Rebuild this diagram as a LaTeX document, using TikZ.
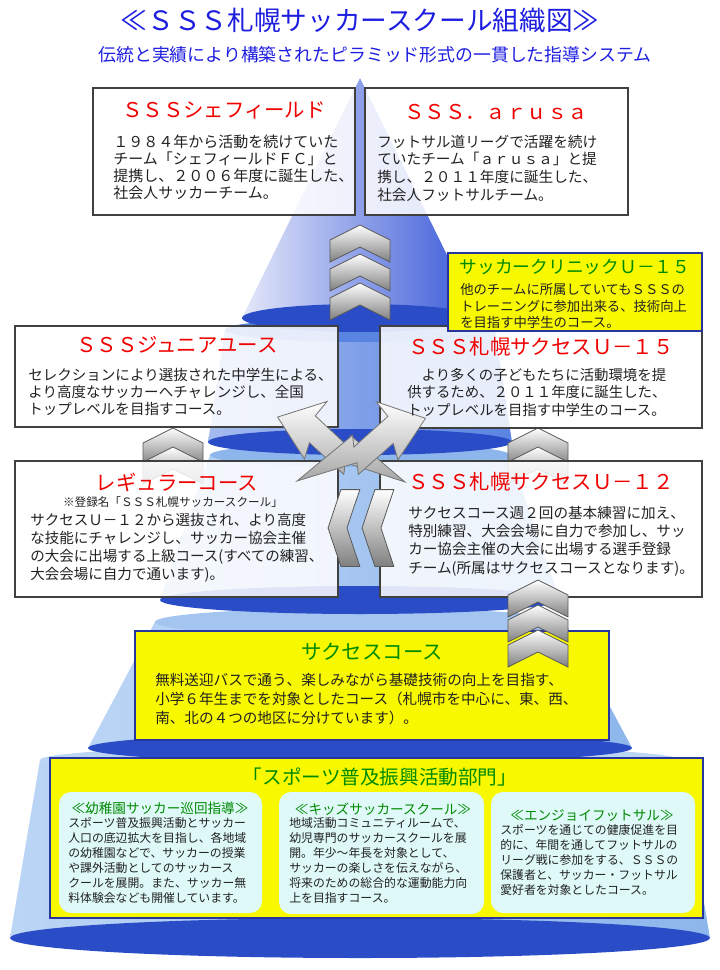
\documentclass[tikz,border=0pt]{standalone}
\usepackage{fontspec}
\setmainfont{Noto Sans CJK JP}
\usetikzlibrary{fit}

\definecolor{headblue}{HTML}{1E1EE0}
\definecolor{boxred}{HTML}{F00000}
\definecolor{boxgreen}{HTML}{008A00}
\definecolor{txtdark}{HTML}{222222}
\definecolor{pyrcone}{HTML}{3858D8}
\definecolor{pyrlight}{HTML}{E4E8F9}
\definecolor{pyrrim}{HTML}{2A4CC6}
\definecolor{pyrmid}{HTML}{5A84E2}
\definecolor{pyrsky}{HTML}{8DB6EC}
\definecolor{pyrpale}{HTML}{BBD5F5}
\definecolor{boxyellow}{HTML}{F8F800}
\definecolor{yelline}{HTML}{26369E}
\definecolor{kidcyan}{HTML}{DEF9F8}

\tikzset{
  whitebox/.style={draw=black!75, line width=0.8pt, fill=white, fill opacity=0.85, inner sep=0pt},
  yelbox/.style={draw=yelline, line width=0.8pt, fill=boxyellow, inner sep=0pt},
  kidbox/.style={fill=kidcyan, rounded corners=9pt, inner sep=0pt},
  rtitle/.style={text=boxred, font=\fontsize{15.3}{18}\selectfont, inner sep=0pt},
  gtitle/.style={text=boxgreen, font=\fontsize{15.3}{18}\selectfont, inner sep=0pt},
  ghead/.style={text=boxgreen, font=\fontsize{10.2}{12}\selectfont, inner sep=0pt},
  body/.style={text=txtdark, align=left, anchor=north west, inner sep=0pt},
  kidtext/.style={font=\fontsize{8.9}{11.25}\selectfont},
  chev/.style={draw=black!65, line width=0.6pt, top color=white, bottom color=black!50},
  bolt/.style={draw=black!55, line width=0.6pt, top color=white, bottom color=black!35},
  upchev/.pic={\draw[chev] (0,0) -- (30,15) -- (30,37) -- (0,22) -- (-30,37) -- (-30,15) -- cycle;}
}

\begin{document}
\begin{tikzpicture}[x=0.75pt, y=-0.75pt]
  \useasboundingbox (0,0) rectangle (720,970);

  % pyramid, bottom tier first
  \shade[left color=pyrpale, right color=pyrsky] (40,760) -- (10,938) -- (710,938) -- (680,760) -- cycle;
  \fill[pyrrim] (360,938) ellipse [x radius=350, y radius=20];
  \fill[pyrpale] (360,760) ellipse [x radius=320, y radius=15];
  \shade[left color=pyrpale, right color=pyrsky] (155,622) -- (88,748) -- (632,748) -- (565,622) -- cycle;
  \fill[pyrrim] (360,748) ellipse [x radius=272, y radius=15];
  \fill[pyrsky!80!white] (360,622) ellipse [x radius=205, y radius=14];
  \shade[left color=pyrpale, right color=pyrsky] (210,455) -- (160,600) -- (560,600) -- (510,455) -- cycle;
  \fill[pyrrim] (360,600) ellipse [x radius=200, y radius=14];
  \fill[pyrsky] (360,455) ellipse [x radius=150, y radius=12];
  \shade[left color=pyrmid!55!white, right color=pyrmid] (225,330) -- (208,442) -- (512,442) -- (495,330) -- cycle;
  \fill[pyrrim] (360,442) ellipse [x radius=152, y radius=13];
  \fill[pyrmid] (360,330) ellipse [x radius=135, y radius=12];
  \shade[left color=pyrlight, right color=pyrcone] (360,78) -- (242,318) -- (478,318) -- cycle;
  \fill[pyrrim] (360,318) ellipse [x radius=118, y radius=14];

  \foreach \cx in {173,538} {
    \pic at (\cx,428) {upchev};
    \pic at (\cx,447) {upchev};
  }

  \node[whitebox, fit={(93,88) (355,215)}] (sheff) {};
  \node[whitebox, fit={(365,88) (628,215)}] (arusa) {};
  \node[whitebox, fit={(15,326) (338,427)}] (junior) {};
  \node[whitebox, fit={(380,326) (702,428)}] (u15) {};
  \node[whitebox, fit={(15,461) (338,597)}] (regular) {};
  \node[whitebox, fit={(380,461) (702,597)}] (u12) {};
  \node[yelbox, fit={(448,253) (702,331)}] (clinic) {};
  \node[yelbox, fit={(135,631) (609,740)}] (success) {};
  \node[yelbox, fit={(50,758) (703,918)}] (sports) {};
  \node[kidbox, fit={(59,792) (262,913)}] (kinder) {};
  \node[kidbox, fit={(279,792) (484,914)}] (kids) {};
  \node[kidbox, fit={(491,792) (695,913)}] (enjoy) {};

  \foreach \y in {225,254,283} \pic at (360,\y) {upchev};
  \foreach \y in {580,605,630} \pic at (538,\y) {upchev};
  \foreach \x in {362,328} \pic[rotate=90, xscale=1.28, yscale=0.86] at (\x,528) {upchev};

  \draw[bolt, shift={(405,482)}, rotate=153, yscale=-1.4] (0,0) -- (70,-12) -- (66,-4) -- (110,-13) -- (106,-26)
    -- (143,0) -- (100,18) -- (103,6) -- (58,15) -- (62,7) -- cycle;
  \draw[bolt, shift={(297,481)}, rotate=26, yscale=1.4] (0,0) -- (70,-12) -- (66,-4) -- (110,-13) -- (106,-26)
    -- (143,0) -- (100,18) -- (103,6) -- (58,15) -- (62,7) -- cycle;

  \node[text=headblue, font=\fontsize{20}{24}\selectfont] (title) at (360,20) {≪ＳＳＳ札幌サッカースクール組織図≫};
  \node[text=headblue, font=\fontsize{13.4}{16}\selectfont] (subtitle) at (375,55) {伝統と実績により構築されたピラミッド形式の一貫した指導システム};

  \node[rtitle] (sheff-t) at (224,110) {ＳＳＳシェフィールド};
  \node[body, font=\fontsize{11.25}{12.75}\selectfont] (sheff-b) at (113,134.5)
    {１９８４年から活動を続けていた\\チーム「シェフィールドＦＣ」と\\提携し、２００６年度に誕生した、\\社会人サッカーチーム。};

  \node[rtitle] (arusa-t) at (496,112) {ＳＳＳ．ａｒｕｓａ};
  \node[body, font=\fontsize{11}{13.3}\selectfont] (arusa-b) at (377,134.6)
    {フットサル道リーグで活躍を続け\\ていたチーム「ａｒｕｓａ」と提\\携し、２０１１年度に誕生した、\\社会人フットサルチーム。};

  \node[gtitle, font=\fontsize{13.3}{16}\selectfont] (clinic-t) at (575,267) {サッカークリニックＵ－１５};
  \node[body, font=\fontsize{10}{12.4}\selectfont] (clinic-b) at (460,283.3)
    {他のチームに所属していてもＳＳＳの\\トレーニングに参加出来る、技術向上\\を目指す中学生のコース。};

  \node[rtitle] (junior-t) at (177,345) {ＳＳＳジュニアユース};
  \node[body, font=\fontsize{10.9}{12.75}\selectfont] (junior-b) at (28,367.7)
    {セレクションにより選抜された中学生による、\\より高度なサッカーへチャレンジし、全国\\トップレベルを目指すコース。};

  \node[rtitle] (u15-t) at (541,347) {ＳＳＳ札幌サクセスＵ－１５};
  \node[body, font=\fontsize{10.8}{13.1}\selectfont] (u15-b) at (407,367.8)
    {　より多くの子どもたちに活動環境を提\\供するため、２０１１年度に誕生した、\\トップレベルを目指す中学生のコース。};

  \node[rtitle] (regular-t) at (177,482) {レギュラーコース};
  \node[text=txtdark, font=\fontsize{8.7}{10}\selectfont, inner sep=0pt] (regular-n) at (173,502) {※登録名「ＳＳＳ札幌サッカースクール」};
  \node[body, font=\fontsize{10.9}{13.7}\selectfont] (regular-b) at (30,512.7)
    {サクセスＵ－１２から選抜され、より高度\\な技能にチャレンジし、サッカー協会主催\\の大会に出場する上級コース(すべての練習、\\大会会場に自力で通います)。};

  \node[rtitle] (u12-t) at (541,482) {ＳＳＳ札幌サクセスＵ－１２};
  \node[body, font=\fontsize{10.95}{13.7}\selectfont] (u12-b) at (408,505.7)
    {サクセスコース週２回の基本練習に加え、\\特別練習、大会会場に自力で参加し、サッ\\カー協会主催の大会に出場する選手登録\\チーム(所属はサクセスコースとなります)。};

  \node[gtitle] (success-t) at (372,652) {サクセスコース};
  \node[body, font=\fontsize{10.95}{14.25}\selectfont] (success-b) at (155,672.7)
    {無料送迎バスで通う、楽しみながら基礎技術の向上を目指す、\\小学６年生までを対象としたコース（札幌市を中心に、東、西、\\南、北の４つの地区に分けています）。};

  \node[gtitle, font=\fontsize{14.7}{17}\selectfont] (sports-t) at (380,777) {「スポーツ普及振興活動部門」};

  \node[ghead] (kinder-t) at (160,808) {≪幼稚園サッカー巡回指導≫};
  \node[body, kidtext] (kinder-b) at (68,817)
    {スポーツ普及振興活動とサッカー\\人口の底辺拡大を目指し、各地域\\の幼稚園などで、サッカーの授業\\や課外活動としてのサッカース\\クールを展開。また、サッカー無\\料体験会なども開催しています。};

  \node[ghead] (kids-t) at (383,809) {≪キッズサッカースクール≫};
  \node[body, kidtext] (kids-b) at (289,817)
    {地域活動コミュニティルームで、\\幼児専門のサッカースクールを展\\開。年少～年長を対象として、\\サッカーの楽しさを伝えながら、\\将来のための総合的な運動能力向\\上を目指すコース。};

  \node[ghead] (enjoy-t) at (592,816) {≪エンジョイフットサル≫};
  \node[body, kidtext] (enjoy-b) at (500,824)
    {スポーツを通じての健康促進を目\\的に、年間を通してフットサルの\\リーグ戦に参加をする、ＳＳＳの\\保護者と、サッカー・フットサル\\愛好者を対象としたコース。};
\end{tikzpicture}
\end{document}
